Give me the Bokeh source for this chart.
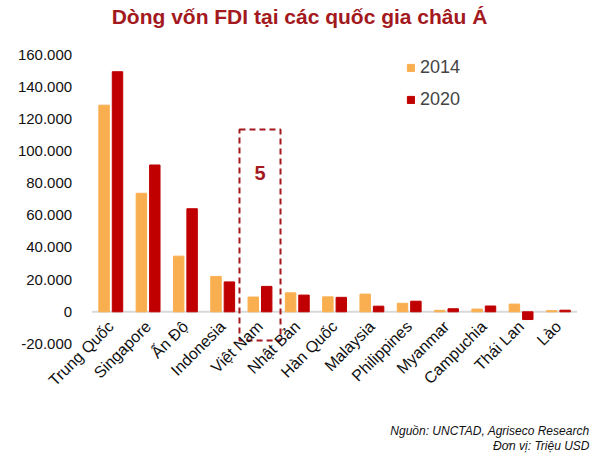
from math import pi
from bokeh.plotting import figure
from bokeh.models import (Range1d, FixedTicker, CustomJSTickFormatter,
                          Legend, LegendItem, Label, ColumnDataSource)
from bokeh.core.properties import value
from bokeh.embed import file_html
from bokeh.resources import INLINE

# ---- data (million USD) ----
countries = ["Trung Quốc", "Singapore", "Ấn Độ", "Indonesia", "Việt Nam", "Nhật Bản",
             "Hàn Quốc", "Malaysia", "Philippines", "Myanmar", "Campuchia", "Thái Lan", "Lào"]
fdi_2014 = [128500, 73700, 34600, 22000, 9200, 11800, 9300, 11000, 5300, 900, 1700, 4800, 700]
fdi_2020 = [149300, 91300, 64100, 18600, 15800, 10400, 9000, 3500, 6600, 1900, 3600, -4800, 1000]
series_names = ["2014", "2020"]
y_ticks = [-20000, 0, 20000, 40000, 60000, 80000, 100000, 120000, 140000, 160000]
highlight = "Việt Nam"
highlight_rank = "5"

title_text = "Dòng vốn FDI tại các quốc gia châu Á"
source_text = "Nguồn: UNCTAD, Agriseco Research"
unit_text = "Đơn vị: Triệu USD"

C14 = "#F9AF4F"
C20 = "#C00000"
DARK_RED = "#A3191E"
FONT = "Liberation Sans"

W, H = 600, 463
idx = list(range(len(countries)))
src = ColumnDataSource(dict(i=idx, name=countries, v14=fdi_2014, v20=fdi_2020,
                            x14=[i - 0.18 for i in idx], x20=[i + 0.18 for i in idx]))

# frame covers the whole canvas; axes are drawn at fixed locations inside it
p = figure(width=W, height=H, x_range=Range1d(-2.957, 13.129),
           y_range=Range1d(-94340, 193600), output_backend="svg",
           toolbar_location=None, min_border=0)
p.outline_line_color = None
p.xgrid.grid_line_color = None
p.ygrid.grid_line_color = None
p.background_fill_color = "white"
p.border_fill_color = "white"

# zero baseline of the category axis
p.segment(x0=[-0.5], y0=[0], x1=[len(countries) - 0.5], y1=[0],
          line_color="#D9D9D9", line_width=2)

r14 = p.vbar(x="x14", top="v14", width=0.28, source=src, color=C14)
r20 = p.vbar(x="x20", top="v20", width=0.28, source=src, color=C20)

# highlight box around Viet Nam
hi = countries.index(highlight)
box_top, box_bottom = 113400, -17850
p.rect(x=[hi], y=[(box_top + box_bottom) / 2], width=1.1, height=box_top - box_bottom,
       fill_alpha=0, line_color=DARK_RED, line_width=2, line_dash="6 4")
p.text(x=[hi], y=[86600], text=[highlight_rank], text_align="center",
       text_baseline="middle", text_font=value(FONT), text_font_style="bold",
       text_font_size="20px", text_color=DARK_RED)

# y axis
yax = p.yaxis[0]
yax.fixed_location = -0.5
yax.ticker = FixedTicker(ticks=y_ticks)
yax.formatter = CustomJSTickFormatter(code="""
return Math.round(tick).toString().replace(/\\B(?=(\\d{3})+(?!\\d))/g, '.');
""")
yax.axis_line_color = None
yax.major_tick_line_color = None
yax.minor_tick_line_color = None
yax.major_label_standoff = 14
yax.major_label_text_font = FONT
yax.major_label_text_font_size = "15px"
yax.major_label_text_color = "#111111"

# x axis (category labels)
xax = p.xaxis[0]
xax.fixed_location = 0
xax.ticker = FixedTicker(ticks=idx)
xax.major_label_overrides = {i: n for i, n in zip(idx, countries)}
xax.axis_line_color = None
xax.major_tick_line_color = None
xax.minor_tick_line_color = None
xax.major_label_orientation = pi / 4
xax.major_label_standoff = 6
xax.major_label_text_font = FONT
xax.major_label_text_font_size = "16px"
xax.major_label_text_color = "#111111"

legend = Legend(items=[LegendItem(label=series_names[0], renderers=[r14]),
                       LegendItem(label=series_names[1], renderers=[r20])],
                location=(406, 353), border_line_alpha=0, background_fill_alpha=0,
                glyph_width=9, glyph_height=9, label_text_font=FONT,
                label_text_font_size="18px", spacing=11, padding=0, margin=0,
                label_standoff=5)
p.add_layout(legend)

p.add_layout(Label(x=299, y=447, x_units="screen", y_units="screen", text=title_text,
                   text_align="center", text_baseline="middle", text_font=FONT,
                   text_font_style="bold", text_font_size="21px", text_color=DARK_RED))
p.add_layout(Label(x=589, y=33, x_units="screen", y_units="screen", text=source_text,
                   text_align="right", text_baseline="middle", text_font=FONT,
                   text_font_style="italic", text_font_size="12px", text_color="#111111"))
p.add_layout(Label(x=589, y=18, x_units="screen", y_units="screen", text=unit_text,
                   text_align="right", text_baseline="middle", text_font=FONT,
                   text_font_style="italic", text_font_size="12px", text_color="#111111"))

open("out.html", "w").write(file_html(p, INLINE))
